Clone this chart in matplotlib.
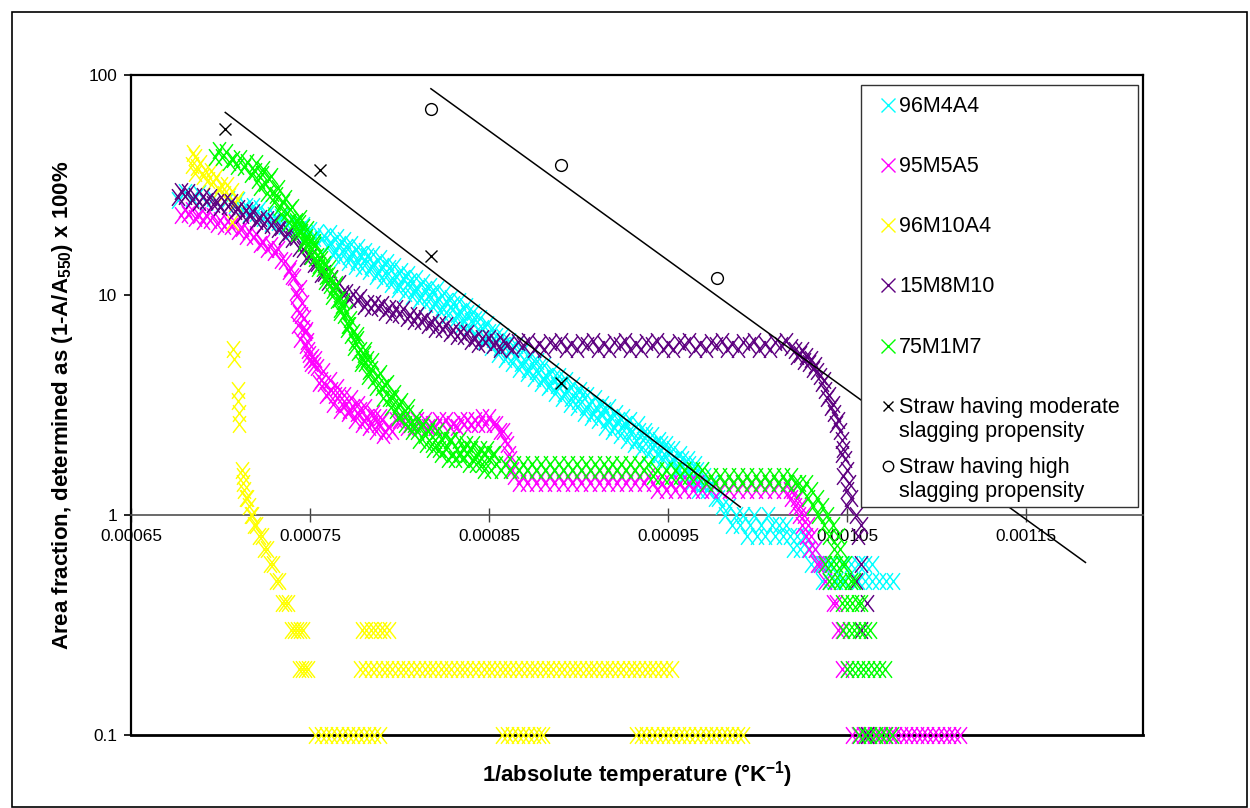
import numpy as np
import matplotlib
matplotlib.use("Agg")
import matplotlib.pyplot as plt
from matplotlib.patches import Rectangle
from matplotlib.lines import Line2D
from matplotlib.path import Path
from matplotlib.ticker import NullLocator, FixedLocator, FixedFormatter

plt.rcParams['font.family'] = ['Liberation Sans', 'DejaVu Sans']
plt.rcParams['mathtext.fontset'] = 'custom'
plt.rcParams['mathtext.rm'] = 'Liberation Sans'
plt.rcParams['mathtext.bf'] = 'Liberation Sans:bold'
plt.rcParams['mathtext.it'] = 'Liberation Sans:italic'

# ---------------- data ----------------
# points are (1/absolute temperature in units of 1e-4 K^-1, area fraction %)
X_UNIT = 1e-4
series_names = ["96M4A4", "95M5A5", "96M10A4", "15M8M10", "75M1M7"]
series_colors = ["#00FFFF", "#FF00FF", "#FFFF00", "#5E0080", "#00FF00"]

pts_96M4A4 = [
    (6.76, 26.9), (6.80, 29.3), (6.84, 27.5), (6.88, 29.0), (6.92, 26.4), (6.96, 27.5), (7.00, 25.3), (7.04, 27.4), (7.08, 25.6),
    (7.10, 27.0), (7.12, 24.6), (7.14, 25.5), (7.16, 23.3), (7.18, 25.3), (7.20, 23.6), (7.22, 24.8), (7.24, 22.4), (7.26, 23.3), (7.28, 21.3),
    (7.30, 23.0), (7.32, 21.5), (7.34, 22.7), (7.36, 20.5), (7.38, 21.3), (7.40, 19.5), (7.42, 21.2), (7.44, 19.9), (7.46, 20.8), (7.48, 18.9),
    (7.50, 19.7), (7.52, 18.1), (7.54, 19.3), (7.56, 18.0), (7.58, 18.6), (7.60, 16.8), (7.62, 17.3), (7.64, 15.8), (7.66, 17.0), (7.68, 15.9),
    (7.70, 16.6), (7.72, 15.0), (7.74, 15.6), (7.76, 14.2), (7.78, 15.4), (7.80, 14.3), (7.82, 15.0), (7.84, 13.5), (7.86, 13.9), (7.88, 12.7),
    (7.90, 13.6), (7.92, 12.6), (7.94, 13.2), (7.96, 11.9), (7.98, 12.2), (8.00, 11.1), (8.02, 12.0), (8.04, 11.2), (8.06, 11.6), (8.08, 10.5),
    (8.10, 10.8), (8.12, 9.8), (8.14, 10.6), (8.16, 9.9), (8.18, 10.3), (8.20, 9.3), (8.22, 9.6), (8.24, 8.8), (8.26, 9.4), (8.28, 8.8),
    (8.30, 9.1), (8.32, 8.2), (8.34, 8.5), (8.36, 7.7), (8.38, 8.3), (8.40, 7.6), (8.42, 7.8), (8.44, 7.0), (8.46, 7.1), (8.48, 6.4),
    (8.50, 6.8), (8.52, 6.3), (8.54, 6.5), (8.56, 5.8), (8.58, 5.9), (8.60, 5.3), (8.62, 5.7), (8.64, 5.3), (8.66, 5.5), (8.68, 4.9),
    (8.70, 5.0), (8.72, 4.6), (8.74, 4.9), (8.76, 4.5), (8.78, 4.7), (8.80, 4.2), (8.82, 4.3), (8.84, 3.9), (8.86, 4.2), (8.88, 3.9),
    (8.90, 4.0), (8.92, 3.6), (8.94, 3.7), (8.96, 3.4), (8.98, 3.6), (9.00, 3.3), (9.02, 3.5), (9.04, 3.1), (9.06, 3.2), (9.08, 2.9),
    (9.10, 3.1), (9.12, 2.9), (9.14, 3.0), (9.16, 2.7), (9.18, 2.8), (9.20, 2.5), (9.22, 2.7), (9.24, 2.5), (9.26, 2.6), (9.28, 2.4),
    (9.30, 2.4), (9.32, 2.2), (9.34, 2.4), (9.36, 2.2), (9.38, 2.3), (9.40, 2.1), (9.42, 2.1), (9.44, 1.9), (9.46, 2.1), (9.48, 1.9),
    (9.50, 2.0), (9.52, 1.8), (9.54, 1.8), (9.56, 1.6), (9.58, 1.8), (9.60, 1.6), (9.62, 1.7), (9.64, 1.5), (9.66, 1.6), (9.68, 1.4),
    (9.70, 1.5), (9.72, 1.3), (9.74, 1.4), (9.76, 1.2), (9.78, 1.2),
    (9.80, 1.1), (9.82, 1.0), (9.84, 1.1), (9.86, 0.9), (9.88, 1.0), (9.90, 0.9), (9.92, 1.0), (9.94, 0.8), (9.96, 0.9), (9.98, 1.0),
    (10.00, 0.8), (10.02, 0.9), (10.04, 0.8), (10.06, 1.0), (10.08, 0.9), (10.10, 0.8), (10.12, 0.9), (10.14, 0.8), (10.16, 0.9), (10.18, 0.8),
    (10.20, 0.7), (10.22, 0.8), (10.24, 0.7), (10.26, 0.8), (10.28, 0.7), (10.30, 0.6), (10.32, 0.7), (10.34, 0.6),
    (10.36, 0.6), (10.40, 0.6), (10.44, 0.6), (10.48, 0.6), (10.52, 0.6), (10.56, 0.6), (10.60, 0.6), (10.64, 0.6),
    (10.36, 0.5), (10.40, 0.5), (10.44, 0.5), (10.48, 0.5), (10.52, 0.5), (10.56, 0.5), (10.60, 0.5), (10.64, 0.5),
    (10.68, 0.5), (10.72, 0.5), (10.76, 0.5),
    # scatter at the band edges
    (7.61, 19.1), (7.63, 15.2), (7.65, 18.4), (7.67, 14.6), (7.69, 17.7), (7.71, 14.1), (7.73, 17.1), (7.75, 13.6), (7.77, 16.5), (7.79, 13.2),
    (7.81, 15.9), (7.83, 12.8), (7.85, 15.4), (7.87, 12.2), (7.89, 14.7), (7.91, 11.7), (7.93, 14.1), (7.95, 11.2), (7.97, 13.5), (7.99, 10.7),
    (8.01, 12.9), (8.03, 10.2), (8.05, 12.4), (8.07, 9.9), (8.09, 11.9), (8.11, 9.5), (8.13, 11.5), (8.15, 9.1), (8.17, 11.0), (8.19, 8.8),
    (8.21, 10.6), (8.23, 8.4), (8.25, 10.2), (8.27, 8.1), (8.29, 9.7), (8.31, 7.7), (8.33, 9.4), (8.35, 7.4), (8.37, 8.9), (8.39, 7.1),
    (8.41, 8.4), (8.43, 6.6), (8.45, 7.9), (8.47, 6.2), (8.49, 7.4), (8.51, 5.8), (8.53, 6.9), (8.55, 5.4), (8.57, 6.5), (8.59, 5.1),
    (8.61, 6.2), (8.63, 4.9), (8.65, 5.9), (8.67, 4.6), (8.69, 5.6), (8.71, 4.4), (8.73, 5.3), (8.75, 4.2), (8.77, 5.0), (8.79, 4.0),
    (8.81, 4.8), (8.83, 3.8), (8.85, 4.5), (8.87, 3.6), (8.89, 4.3), (8.91, 3.4), (8.93, 4.1), (8.95, 3.2), (8.97, 3.9), (8.99, 3.1),
    (9.01, 3.7), (9.03, 2.9), (9.05, 3.5), (9.07, 2.8), (9.09, 3.4), (9.11, 2.7), (9.13, 3.2), (9.15, 2.5), (9.17, 3.1), (9.19, 2.4),
    (9.21, 2.9), (9.23, 2.3), (9.25, 2.8), (9.27, 2.2), (9.29, 2.7), (9.31, 2.1), (9.33, 2.6), (9.35, 2.0), (9.37, 2.4), (9.39, 1.9),
    (9.41, 2.3), (9.43, 1.8), (9.45, 2.2), (9.47, 1.8), (9.49, 2.1), (9.51, 1.7), (9.53, 2.0), (9.55, 1.6), (9.57, 1.9), (9.59, 1.5),
    (9.61, 1.8), (9.63, 1.4), (9.65, 1.7), (9.67, 1.3), (9.69, 1.6),
]

pts_95M5A5 = [
    (6.78, 23.1), (6.80, 24.7), (6.82, 23.3), (6.84, 24.4), (6.86, 22.4), (6.88, 23.0), (6.90, 21.7), (6.92, 23.1), (6.94, 22.0), (6.96, 22.9),
    (6.98, 21.1), (7.00, 21.9), (7.02, 20.6), (7.04, 21.8), (7.06, 20.6), (7.08, 21.4), (7.10, 19.5), (7.12, 20.1), (7.14, 18.6), (7.16, 19.5),
    (7.18, 18.3), (7.20, 18.9), (7.22, 17.1), (7.24, 17.4), (7.26, 16.1), (7.28, 16.9), (7.30, 15.7), (7.32, 16.1), (7.34, 14.4), (7.36, 14.3),
    (7.38, 12.9), (7.39, 13.2), (7.40, 12.2), (7.41, 12.1), (7.42, 10.3), (7.43, 9.9), (7.44, 8.3), (7.45, 8.1), (7.46, 7.1), (7.47, 6.8),
    (7.48, 5.9), (7.49, 5.6), (7.50, 5.1), (7.51, 5.2), (7.52, 4.8), (7.54, 4.7), (7.56, 4.1), (7.58, 4.0), (7.60, 3.6), (7.62, 3.7),
    (7.64, 3.5), (7.66, 3.5), (7.68, 3.2), (7.70, 3.2), (7.72, 3.0), (7.74, 3.1), (7.76, 2.9), (7.78, 3.0), (7.80, 2.7), (7.82, 2.8),
    (7.84, 2.6), (7.86, 2.8), (7.88, 2.6), (7.90, 2.7), (7.92, 2.4), (7.94, 2.5), (7.96, 2.4), (7.98, 2.7), (8.00, 2.7), (8.02, 2.7),
    (8.04, 2.5), (8.06, 2.6), (8.08, 2.5), (8.10, 2.7), (8.12, 2.6), (8.14, 2.7), (8.16, 2.5), (8.18, 2.6), (8.20, 2.5), (8.22, 2.7),
    (8.24, 2.6), (8.26, 2.7), (8.28, 2.5), (8.30, 2.6), (8.32, 2.5), (8.34, 2.7), (8.36, 2.6), (8.38, 2.7), (8.40, 2.6), (8.42, 2.7),
    (8.44, 2.6), (8.46, 2.8), (8.48, 2.6), (8.50, 2.8), (8.52, 2.6), (8.54, 2.6), (8.56, 2.4),
    (8.58, 2.4), (8.59, 2.2), (8.60, 2.1), (8.61, 1.9), (8.62, 1.8), (8.63, 1.6),
    (8.640, 1.5), (8.665, 1.4), (8.690, 1.5), (8.715, 1.4), (8.740, 1.5), (8.765, 1.4), (8.790, 1.5), (8.815, 1.4), (8.840, 1.5), (8.865, 1.4),
    (8.890, 1.5), (8.915, 1.4), (8.940, 1.5), (8.965, 1.4), (8.990, 1.5), (9.015, 1.4), (9.040, 1.5), (9.065, 1.4), (9.090, 1.5), (9.115, 1.4),
    (9.140, 1.5), (9.165, 1.4), (9.190, 1.5), (9.215, 1.4), (9.240, 1.5), (9.265, 1.4), (9.290, 1.5), (9.315, 1.4), (9.340, 1.5), (9.365, 1.4),
    (9.390, 1.5),
    (9.415, 1.4), (9.440, 1.3), (9.465, 1.4), (9.490, 1.3), (9.515, 1.4), (9.540, 1.3), (9.565, 1.4), (9.590, 1.3), (9.615, 1.4), (9.640, 1.3),
    (9.665, 1.4), (9.690, 1.3), (9.715, 1.4), (9.740, 1.3), (9.765, 1.4), (9.790, 1.3), (9.815, 1.4), (9.840, 1.3), (9.865, 1.4), (9.890, 1.3),
    (9.915, 1.4), (9.940, 1.3), (9.965, 1.4), (9.990, 1.3), (10.015, 1.4), (10.040, 1.3), (10.065, 1.4), (10.090, 1.3), (10.115, 1.4), (10.140, 1.3),
    (10.165, 1.4),
    (10.18, 1.3), (10.19, 1.2), (10.20, 1.3), (10.21, 1.1), (10.22, 1.2), (10.23, 1.0), (10.24, 1.1), (10.25, 0.9), (10.26, 1.0), (10.27, 0.8),
    (10.28, 0.9), (10.29, 0.7), (10.30, 0.8), (10.32, 0.7), (10.33, 0.6), (10.35, 0.6), (10.37, 0.6), (10.38, 0.5), (10.40, 0.5), (10.42, 0.4),
    (10.44, 0.4), (10.45, 0.3), (10.47, 0.3), (10.47, 0.2), (10.50, 0.2),
    (10.53, 0.1), (10.56, 0.1), (10.59, 0.1), (10.62, 0.1), (10.65, 0.1), (10.68, 0.1), (10.71, 0.1), (10.74, 0.1), (10.77, 0.1), (10.80, 0.1),
    (10.83, 0.1), (10.86, 0.1), (10.89, 0.1), (10.92, 0.1), (10.95, 0.1), (10.98, 0.1), (11.01, 0.1), (11.04, 0.1), (11.07, 0.1), (11.10, 0.1),
    (11.13, 0.1),
    # scatter at the band edges
    (7.445, 10.8), (7.455, 9.2), (7.465, 7.9), (7.475, 6.9), (7.485, 6.2), (7.495, 5.4), (7.505, 4.9), (7.425, 8.6), (7.435, 7.3), (7.445, 6.3),
    (7.53, 5.1), (7.55, 4.0), (7.57, 4.5), (7.59, 3.5), (7.61, 4.1), (7.63, 3.2), (7.65, 3.8), (7.67, 3.0), (7.69, 3.5), (7.71, 2.9),
    (7.73, 3.4), (7.75, 2.7), (7.77, 3.2), (7.79, 2.6), (7.81, 3.1), (7.83, 2.5), (7.85, 2.9), (7.87, 2.4), (7.89, 2.8), (7.91, 2.3),
]

pts_96M10A4 = [
    (6.845, 44.0), (6.840, 38.9), (6.855, 42.5), (6.860, 36.0), (6.870, 38.2), (6.885, 40.0), (6.900, 34.8), (6.915, 36.9), (6.930, 33.4),
    (6.945, 36.6), (6.960, 32.8), (6.975, 34.4), (6.990, 29.9), (7.005, 31.7), (7.020, 28.8), (7.035, 31.5), (7.050, 28.2), (7.065, 29.6),
    (7.080, 26.3), (7.095, 27.3), (7.064, 21.4),
    (7.070, 5.7), (7.075, 5.1), (7.098, 3.7), (7.098, 3.3), (7.103, 2.9), (7.103, 2.6), (7.120, 1.6), (7.125, 1.5), (7.125, 1.4), (7.131, 1.3),
    (7.142, 1.2), (7.148, 1.2), (7.159, 1.1), (7.170, 1.0), (7.176, 1.0), (7.187, 0.9), (7.198, 0.9), (7.215, 0.8), (7.232, 0.8), (7.243, 0.7),
    (7.260, 0.7), (7.277, 0.6), (7.293, 0.6), (7.310, 0.5), (7.327, 0.5), (7.344, 0.4), (7.360, 0.4), (7.377, 0.4), (7.394, 0.3), (7.410, 0.3),
    (7.427, 0.3), (7.444, 0.3), (7.460, 0.3), (7.438, 0.2), (7.455, 0.2), (7.472, 0.2), (7.489, 0.2),
    (7.790, 0.3), (7.815, 0.3), (7.840, 0.3), (7.865, 0.3), (7.890, 0.3), (7.915, 0.3), (7.940, 0.3),
    (7.78, 0.2), (7.81, 0.2), (7.84, 0.2), (7.87, 0.2), (7.90, 0.2), (7.93, 0.2), (7.96, 0.2), (7.99, 0.2), (8.02, 0.2), (8.05, 0.2),
    (8.08, 0.2), (8.11, 0.2), (8.14, 0.2), (8.17, 0.2), (8.20, 0.2), (8.23, 0.2), (8.26, 0.2), (8.29, 0.2), (8.32, 0.2), (8.35, 0.2),
    (8.38, 0.2), (8.41, 0.2), (8.44, 0.2), (8.47, 0.2), (8.50, 0.2), (8.53, 0.2), (8.56, 0.2), (8.59, 0.2), (8.62, 0.2), (8.65, 0.2),
    (8.68, 0.2), (8.71, 0.2), (8.74, 0.2), (8.77, 0.2), (8.80, 0.2), (8.83, 0.2), (8.86, 0.2), (8.89, 0.2), (8.92, 0.2), (8.95, 0.2),
    (8.98, 0.2), (9.01, 0.2), (9.04, 0.2), (9.07, 0.2), (9.10, 0.2), (9.13, 0.2), (9.16, 0.2), (9.19, 0.2), (9.22, 0.2), (9.25, 0.2),
    (9.28, 0.2), (9.31, 0.2), (9.34, 0.2), (9.37, 0.2), (9.40, 0.2), (9.43, 0.2), (9.46, 0.2), (9.49, 0.2), (9.52, 0.2),
    (7.53, 0.1), (7.56, 0.1), (7.59, 0.1), (7.62, 0.1), (7.65, 0.1), (7.68, 0.1), (7.71, 0.1), (7.74, 0.1), (7.77, 0.1), (7.80, 0.1),
    (7.83, 0.1), (7.86, 0.1), (7.89, 0.1),
    (8.57, 0.1), (8.60, 0.1), (8.63, 0.1), (8.66, 0.1), (8.69, 0.1), (8.72, 0.1), (8.75, 0.1), (8.78, 0.1), (8.80, 0.1),
    (9.32, 0.1), (9.35, 0.1), (9.38, 0.1), (9.41, 0.1), (9.44, 0.1), (9.47, 0.1), (9.50, 0.1), (9.53, 0.1), (9.56, 0.1), (9.59, 0.1),
    (9.62, 0.1), (9.65, 0.1), (9.68, 0.1), (9.71, 0.1), (9.74, 0.1), (9.77, 0.1), (9.80, 0.1), (9.83, 0.1), (9.86, 0.1), (9.89, 0.1),
    (9.92, 0.1),
]

pts_15M8M10 = [
    (6.76, 27.8), (6.78, 29.6), (6.80, 28.2), (6.82, 29.4), (6.84, 27.1), (6.86, 28.1), (6.88, 26.4), (6.90, 28.2), (6.92, 26.7), (6.94, 28.0),
    (6.96, 25.8), (6.98, 26.6), (7.00, 25.1), (7.02, 26.7), (7.04, 25.4), (7.06, 26.5), (7.08, 24.1), (7.10, 24.8), (7.12, 23.1), (7.14, 24.4),
    (7.16, 23.0), (7.18, 23.8), (7.20, 21.7), (7.22, 22.3), (7.24, 20.8), (7.26, 22.1), (7.28, 20.8), (7.30, 21.6), (7.32, 19.9), (7.34, 20.3),
    (7.36, 18.5), (7.38, 19.3), (7.40, 18.0), (7.42, 18.3), (7.44, 16.3), (7.46, 16.2), (7.48, 14.7), (7.50, 15.1), (7.52, 13.9), (7.54, 14.0),
    (7.56, 12.5), (7.58, 12.6), (7.60, 11.4), (7.62, 11.9), (7.64, 11.0), (7.66, 11.3), (7.68, 10.2), (7.70, 10.3), (7.72, 9.6), (7.74, 10.1),
    (7.76, 9.5), (7.78, 9.8), (7.80, 8.9), (7.82, 9.2), (7.84, 8.7), (7.86, 9.2), (7.88, 8.8), (7.90, 9.1), (7.92, 8.4), (7.94, 8.7),
    (7.96, 8.1), (7.98, 8.7), (8.00, 8.2), (8.02, 8.6), (8.04, 7.9), (8.06, 8.1), (8.08, 7.6), (8.10, 8.1), (8.12, 7.6), (8.14, 7.9),
    (8.16, 7.3), (8.18, 7.5), (8.20, 7.0), (8.22, 7.4), (8.24, 7.0), (8.26, 7.3), (8.28, 6.7), (8.30, 6.9), (8.32, 6.5), (8.34, 6.8),
    (8.36, 6.5), (8.38, 6.7), (8.40, 6.2), (8.42, 6.4), (8.44, 6.0), (8.46, 6.4), (8.48, 6.1), (8.50, 6.4), (8.52, 5.9), (8.54, 6.1),
    (8.56, 5.7), (8.58, 6.2), (8.60, 5.9),
    (8.63, 5.7), (8.66, 6.1), (8.69, 5.9), (8.72, 6.2), (8.75, 5.7), (8.78, 6.0), (8.81, 5.7), (8.84, 6.1), (8.87, 5.9), (8.90, 6.2),
    (8.93, 5.7), (8.96, 6.0), (8.99, 5.7), (9.02, 6.1), (9.05, 5.9), (9.08, 6.2), (9.11, 5.7), (9.14, 6.0), (9.17, 5.7), (9.20, 6.1),
    (9.23, 5.9), (9.26, 6.2), (9.29, 5.7), (9.32, 6.0), (9.35, 5.7), (9.38, 6.1), (9.41, 5.9), (9.44, 6.2), (9.47, 5.7), (9.50, 6.0),
    (9.53, 5.7), (9.56, 6.1), (9.59, 5.9), (9.62, 6.2), (9.65, 5.7), (9.68, 6.0), (9.71, 5.7), (9.74, 6.1), (9.77, 5.9), (9.80, 6.2),
    (9.83, 5.7), (9.86, 6.0), (9.89, 5.7), (9.92, 6.1), (9.95, 5.9), (9.98, 6.2), (10.01, 5.7), (10.04, 6.0), (10.07, 5.7), (10.10, 6.1),
    (10.13, 5.9), (10.16, 6.2),
    (10.19, 5.8), (10.21, 5.6), (10.22, 5.3), (10.24, 5.4), (10.25, 5.6), (10.26, 5.0), (10.27, 5.3), (10.29, 4.9), (10.30, 5.1), (10.31, 4.6),
    (10.32, 4.8), (10.33, 4.5), (10.35, 4.3), (10.36, 4.0), (10.37, 4.1), (10.38, 3.7), (10.39, 3.4), (10.40, 3.5), (10.41, 3.1), (10.42, 3.2),
    (10.43, 2.9), (10.44, 2.6), (10.45, 2.7), (10.46, 2.4), (10.47, 2.2), (10.48, 2.0), (10.47, 1.9), (10.49, 1.8), (10.50, 1.6), (10.48, 1.5),
    (10.51, 1.4), (10.50, 1.3), (10.52, 1.2), (10.50, 1.1), (10.55, 1.0), (10.58, 0.9), (10.56, 0.8), (10.58, 0.6), (10.55, 0.5), (10.61, 0.4),
    (10.58, 0.3), (10.61, 0.1),
]

pts_75M1M7 = [
    (6.97, 42.3), (6.99, 45.8), (7.01, 42.4), (7.03, 44.9), (7.05, 40.2), (7.07, 41.7), (7.09, 38.7), (7.11, 41.8), (7.13, 38.3), (7.15, 40.2),
    (7.17, 35.6), (7.19, 36.7), (7.21, 33.3), (7.23, 35.5), (7.25, 32.2), (7.27, 33.6), (7.29, 29.0), (7.31, 28.6), (7.33, 25.2), (7.35, 26.4),
    (7.37, 23.7), (7.39, 24.5), (7.41, 21.2), (7.42, 21.8), (7.43, 19.9), (7.44, 21.3), (7.45, 19.4), (7.46, 20.4), (7.47, 18.0), (7.48, 18.4),
    (7.49, 16.8), (7.50, 17.8), (7.51, 16.1), (7.52, 16.8), (7.53, 14.8), (7.54, 15.1), (7.55, 13.7), (7.56, 14.6), (7.57, 13.3), (7.58, 13.8),
    (7.59, 12.2), (7.60, 12.3), (7.61, 11.1), (7.62, 11.8), (7.63, 10.5), (7.64, 10.9), (7.65, 9.5), (7.66, 9.6), (7.67, 8.6), (7.68, 9.0),
    (7.69, 8.1), (7.70, 8.4), (7.71, 7.3), (7.72, 7.3), (7.73, 6.6), (7.74, 6.8), (7.75, 6.1), (7.76, 6.3), (7.77, 5.5), (7.78, 5.6),
    (7.79, 5.1), (7.80, 5.4), (7.81, 4.9), (7.82, 5.1), (7.83, 4.5), (7.84, 4.6), (7.86, 4.1), (7.88, 4.3), (7.90, 3.8), (7.92, 3.9),
    (7.94, 3.4), (7.96, 3.4), (7.98, 3.0), (8.00, 3.2), (8.02, 2.9), (8.04, 2.9), (8.06, 2.6), (8.08, 2.6), (8.10, 2.4), (8.12, 2.5),
    (8.14, 2.3), (8.16, 2.4), (8.18, 2.1), (8.20, 2.2), (8.22, 2.0), (8.24, 2.2), (8.26, 2.0), (8.28, 2.2), (8.30, 1.9), (8.32, 2.0),
    (8.34, 1.9), (8.36, 2.0), (8.38, 1.9), (8.40, 2.0), (8.42, 1.8), (8.44, 1.9), (8.46, 1.7), (8.48, 1.9), (8.50, 1.8), (8.52, 1.9),
    (8.54, 1.7),
    (8.565, 1.6), (8.590, 1.7), (8.615, 1.6), (8.640, 1.7), (8.665, 1.6), (8.690, 1.7), (8.715, 1.6), (8.740, 1.7), (8.765, 1.6), (8.790, 1.7),
    (8.815, 1.6), (8.840, 1.7), (8.865, 1.6), (8.890, 1.7), (8.915, 1.6), (8.940, 1.7), (8.965, 1.6), (8.990, 1.7), (9.015, 1.6), (9.040, 1.7),
    (9.065, 1.6), (9.090, 1.7), (9.115, 1.6), (9.140, 1.7), (9.165, 1.6), (9.190, 1.7), (9.215, 1.6), (9.240, 1.7), (9.265, 1.6), (9.290, 1.7),
    (9.315, 1.6), (9.340, 1.7), (9.365, 1.6), (9.390, 1.7),
    (9.415, 1.5), (9.440, 1.6), (9.465, 1.5), (9.490, 1.6), (9.515, 1.5), (9.540, 1.6), (9.565, 1.5), (9.590, 1.6), (9.615, 1.5), (9.640, 1.6),
    (9.665, 1.5), (9.690, 1.6),
    (9.715, 1.4), (9.740, 1.5), (9.765, 1.4), (9.790, 1.5), (9.815, 1.4), (9.840, 1.5), (9.865, 1.4), (9.890, 1.5), (9.915, 1.4), (9.940, 1.5),
    (9.965, 1.4), (9.990, 1.5), (10.015, 1.4), (10.040, 1.5), (10.065, 1.4), (10.090, 1.5), (10.115, 1.4), (10.140, 1.5), (10.165, 1.4), (10.190, 1.5),
    (10.21, 1.4),
    (10.23, 1.4), (10.25, 1.3), (10.27, 1.4), (10.28, 1.2), (10.30, 1.3), (10.31, 1.1), (10.33, 1.2), (10.34, 1.0), (10.36, 1.1), (10.37, 0.9),
    (10.39, 1.0), (10.40, 0.8), (10.42, 0.9), (10.43, 0.7), (10.45, 0.8), (10.46, 0.7),
    (10.38, 0.6), (10.41, 0.6), (10.44, 0.6), (10.47, 0.6), (10.49, 0.6),
    (10.40, 0.5), (10.43, 0.5), (10.46, 0.5), (10.49, 0.5), (10.52, 0.5), (10.54, 0.5),
    (10.47, 0.4), (10.50, 0.4), (10.53, 0.4), (10.56, 0.4), (10.58, 0.4),
    (10.48, 0.3), (10.51, 0.3), (10.54, 0.3), (10.57, 0.3), (10.60, 0.3), (10.63, 0.3),
    (10.50, 0.2), (10.53, 0.2), (10.56, 0.2), (10.59, 0.2), (10.62, 0.2), (10.65, 0.2), (10.68, 0.2), (10.71, 0.2),
    (10.57, 0.1), (10.60, 0.1), (10.63, 0.1), (10.66, 0.1), (10.69, 0.1), (10.72, 0.1), (10.75, 0.1),
    # scatter at the band edges
    (7.20, 39.7), (7.22, 31.1), (7.24, 37.2), (7.26, 29.2), (7.28, 34.7), (7.30, 26.4), (7.32, 30.5), (7.34, 23.3), (7.36, 27.5), (7.38, 21.4),
    (7.40, 25.1), (7.425, 19.2), (7.445, 22.3), (7.465, 17.2), (7.485, 20.0), (7.505, 15.1), (7.525, 17.4), (7.545, 13.2), (7.565, 15.4), (7.585, 11.6),
    (7.605, 13.3), (7.625, 9.9), (7.645, 11.2), (7.665, 8.4), (7.685, 9.4), (7.705, 7.0), (7.725, 7.8), (7.745, 5.8), (7.765, 6.6), (7.785, 4.9),
    (7.805, 5.6), (7.825, 4.3), (7.845, 5.0), (7.87, 3.8), (7.89, 4.4), (7.91, 3.4), (7.93, 4.0), (7.95, 3.1), (7.97, 3.6), (7.99, 2.8),
    (8.01, 3.3), (8.03, 2.6), (8.05, 3.1), (8.07, 2.4), (8.09, 2.8), (8.11, 2.2), (8.13, 2.6), (8.15, 2.1), (8.17, 2.5), (8.19, 2.0),
    (8.21, 2.4), (8.23, 1.9), (8.25, 2.3), (8.27, 1.8), (8.29, 2.2), (8.31, 1.8), (8.33, 2.2), (8.35, 1.8), (8.37, 2.1), (8.39, 1.7),
    (8.41, 2.1), (8.43, 1.7), (8.45, 2.0), (8.47, 1.6), (8.49, 2.0), (8.51, 1.6), (8.53, 1.9),
]

# straw reference points (1150/1050/950/850 degC and 950/850/750/650 degC), 1/K
x_moderate = [7.0267e-4, 7.5577e-4, 8.1756e-4, 8.9035e-4]
y_moderate = [57.0, 37.0, 15.0, 4.0]
x_high = [8.1756e-4, 8.9035e-4, 9.7737e-4, 10.8325e-4]
y_high = [70.0, 39.0, 12.0, 2.0]
label_moderate = ["Straw having moderate", "slagging propensity"]
label_high = ["Straw having high", "slagging propensity"]
trend_forecast = 1e-4

x_ticks = [0.00065, 0.00075, 0.00085, 0.00095, 0.00105, 0.00115]
y_ticks = [0.1, 1, 10, 100]

# ---------------- figure ----------------
W, H = 1250, 808
fig = plt.figure(figsize=(W / 100, H / 100), dpi=100)


def fx(px):
    return px / W


def fy(py):
    return 1 - py / H


L, R, T, B = 131, 1143, 75, 735
ax = fig.add_axes([fx(L), fy(B), fx(R) - fx(L), fy(T) - fy(B)])
ax.set_yscale('log')
ax.set_xlim(0.00065, 0.0012154)
ax.set_ylim(0.1, 100)

# slightly tall "x" marker, like the spreadsheet's scatter crosses
tall_x = Path([(-0.78, -1.0), (0.78, 1.0), (-0.78, 1.0), (0.78, -1.0)],
              [Path.MOVETO, Path.LINETO, Path.MOVETO, Path.LINETO])

all_pts = [pts_96M4A4, pts_95M5A5, pts_96M10A4, pts_15M8M10, pts_75M1M7]
for i, (pts, c) in enumerate(zip(all_pts, series_colors)):
    xs = np.array([p[0] for p in pts]) * X_UNIT
    ys = np.array([p[1] for p in pts])
    ax.plot(xs, ys, ls='none', marker=tall_x, ms=12, mew=1.05, mec=c, mfc='none',
            clip_on=False, zorder=3 + i * 0.1)

ax.plot(x_moderate, y_moderate, ls='none', marker='x', ms=8, mew=1.0,
        color='black', zorder=4, clip_on=False)
ax.plot(x_high, y_high, ls='none', marker='o', ms=8.5, mew=1.0, mfc='none',
        mec='black', zorder=4, clip_on=False)

# exponential trend lines (least squares on log10), forecast forward
for xs, ys in [(x_moderate, y_moderate), (x_high, y_high)]:
    xa = np.asarray(xs)
    a, b = np.polyfit(xa, np.log10(ys), 1)
    xl = np.array([xa.min(), xa.max() + trend_forecast])
    ax.plot(xl, 10 ** (a * xl + b), color='black', lw=1.1, zorder=4.5,
            clip_on=False)

# axes styling
for s in ['left', 'top', 'right']:
    ax.spines[s].set_color('black')
    ax.spines[s].set_linewidth(1.6)
ax.spines['bottom'].set_position(('data', 1))
ax.spines['bottom'].set_color('#505050')
ax.spines['bottom'].set_linewidth(1.2)
ax.axhline(0.1, color='black', lw=2.0, clip_on=False, zorder=2)

ax.xaxis.set_major_locator(FixedLocator(x_ticks))
ax.xaxis.set_major_formatter(FixedFormatter(["%.5f" % v for v in x_ticks]))
ax.xaxis.set_minor_locator(NullLocator())
ax.yaxis.set_major_locator(FixedLocator(y_ticks))
ax.yaxis.set_major_formatter(FixedFormatter(["%g" % v for v in y_ticks]))
ax.yaxis.set_minor_locator(NullLocator())
ax.tick_params(axis='x', direction='inout', length=10, width=1.0,
               color='#404040', labelsize=12.4, pad=5)
ax.tick_params(axis='y', direction='out', length=5, width=1.2,
               color='black', labelsize=12.4, pad=5)

fig.text(fx(637), fy(775), r"1/absolute temperature (°K$^{\mathbf{-1}}$)",
         ha='center', va='center', fontsize=16, fontweight='bold')
fig.text(fx(63), fy(405),
         r"Area fraction, determined as (1-A/A$_{\mathbf{550}}$) x 100%",
         ha='center', va='center', rotation=90, fontsize=16, fontweight='bold')

# legend box
fig.add_artist(Rectangle((fx(861), fy(507)), fx(1138) - fx(861), fy(85) - fy(507),
                         transform=fig.transFigure, facecolor='white',
                         edgecolor='#333333', lw=1.0, zorder=10))
mk_x, tx_x = 888, 899
legend_rows = [105, 165, 225, 285, 346]
for name, c, yr in zip(series_names, series_colors, legend_rows):
    fig.add_artist(Line2D([fx(mk_x)], [fy(yr)], transform=fig.transFigure, ls='none',
                          marker='x', ms=10, mew=1.0, color=c, zorder=11))
    fig.text(fx(tx_x), fy(yr + 7), name, fontsize=15.5, va='baseline',
             ha='left', zorder=11)
for lab, m, yr in [(label_moderate, 'x', 406), (label_high, 'o', 466)]:
    fig.add_artist(Line2D([fx(mk_x)], [fy(yr)], transform=fig.transFigure, ls='none',
                          marker=m, ms=7.5, mew=1.0, color='black', mfc='none',
                          zorder=11))
    fig.text(fx(tx_x), fy(yr + 7), lab[0], fontsize=15.5, va='baseline',
             ha='left', zorder=11)
    fig.text(fx(tx_x), fy(yr + 31), lab[1], fontsize=15.5, va='baseline',
             ha='left', zorder=11)

# outer chart border
fig.add_artist(Rectangle((fx(12), fy(807)), fx(1247) - fx(12), fy(12) - fy(807),
                         transform=fig.transFigure, fill=False, edgecolor='black',
                         lw=1.2, zorder=12))

fig.savefig("out.png", dpi=100)
